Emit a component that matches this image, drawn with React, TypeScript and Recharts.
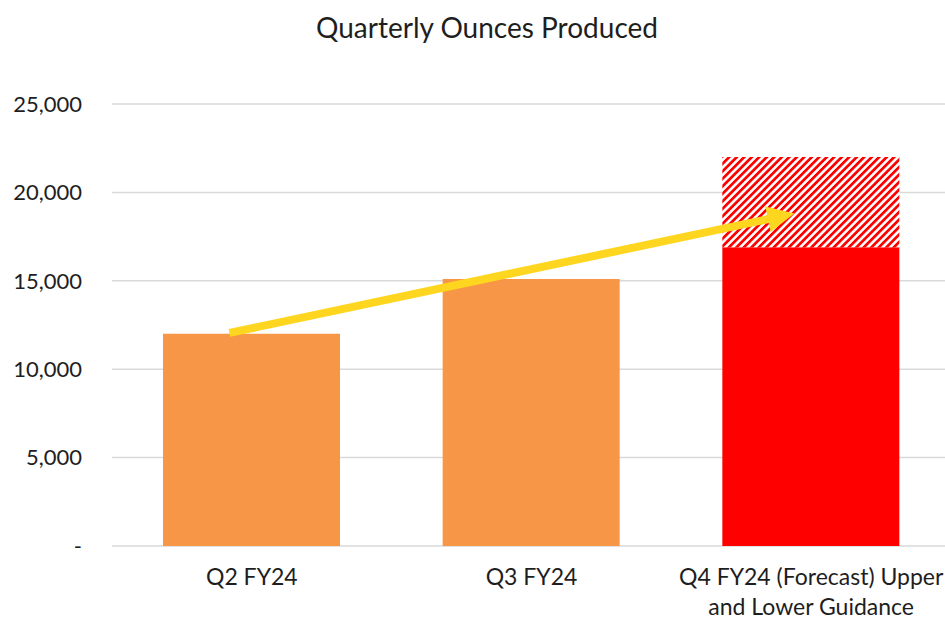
import React from 'react';
import { ComposedChart, Bar, XAxis, YAxis, CartesianGrid, ReferenceLine, Cell } from 'recharts';

const categories = ['Q2 FY24', 'Q3 FY24', 'Q4 FY24 (Forecast) Upper\nand Lower Guidance'];
const produced = [12000, 15100, 16900];
const guidanceRange = [0, 0, 5100];
const yTicks = [0, 5000, 10000, 15000, 20000, 25000];
// trend arrow, in (position along the category axis, ounces)
const arrowFrom = { x: 0.42, y: 12050 };
const arrowTo = { x: 2.44, y: 18800 };

const data = categories.map((name, i) => ({
  name,
  pos: i + 0.5,
  produced: produced[i],
  range: guidanceRange[i],
}));

const FONT = 'Lato, "Open Sans", sans-serif';

const CategoryTick = (props: any) => {
  const { x, y, payload } = props;
  const lines = String(payload.value).split('\n');
  return (
    <text x={x} y={y} textAnchor="middle" fontFamily={FONT} fontSize={23} fill="#1e1e1e">
      {lines.map((l, i) => (
        <tspan key={i} x={x} dy={i === 0 ? 31 : 30}>{l}</tspan>
      ))}
    </text>
  );
};

const Arrow = (p: any) => {
  const { x1, y1, x2, y2 } = p;
  const dx = x2 - x1, dy = y2 - y1;
  const len = Math.sqrt(dx * dx + dy * dy);
  const ux = dx / len, uy = dy / len;
  const head = 27, half = 13;
  const bx = x2 - ux * head, by = y2 - uy * head;
  return (
    <g>
      <line x1={x1} y1={y1} x2={bx + ux * 2} y2={by + uy * 2} stroke="#FFD61F" strokeWidth={8} />
      <polygon
        points={`${x2},${y2} ${bx - uy * half},${by + ux * half} ${bx + uy * half},${by - ux * half}`}
        fill="#FFD61F"
      />
    </g>
  );
};

export default function App() {
  return (
    <div style={{ position: 'absolute', left: 0, top: 0, width: 945, height: 619, overflow: 'hidden', background: '#fff' }}>
      <svg width={0} height={0} style={{ position: 'absolute' }}>
        <defs>
          <pattern id="hatch" width={5.3} height={5.3} patternUnits="userSpaceOnUse" patternTransform="rotate(45)">
            <rect width={5.3} height={5.3} fill="#fff" />
            <rect width={2.7} height={5.3} fill="#FF0000" />
          </pattern>
        </defs>
      </svg>
      <div style={{ position: 'absolute', top: 10, left: 0, width: 974, textAlign: 'center', fontFamily: FONT, fontSize: 28, color: '#1e1e1e' }}>
        Quarterly Ounces Produced
      </div>
      <ComposedChart width={951} height={619} data={data} margin={{ top: 104, right: 0, left: 0, bottom: 43 }}>
        <CartesianGrid vertical={false} stroke="#D9D9D9" strokeWidth={1.5} />
        <XAxis xAxisId="cat" dataKey="name" height={30} tickLine={false} axisLine={false} tick={<CategoryTick />} interval={0} />
        <XAxis xAxisId="pos" dataKey="pos" type="number" domain={[0, 3]} allowDataOverflow hide />
        <YAxis
          width={112}
          domain={[0, 25000]}
          ticks={yTicks}
          tickLine={false}
          axisLine={false}
          tickMargin={24}
          tick={{ fontFamily: FONT, fontSize: 22, fill: '#1e1e1e' }}
          tickFormatter={(v: number) => (v === 0 ? '-' : v.toLocaleString('en-US'))}
        />
        <Bar xAxisId="cat" dataKey="produced" stackId="a" barSize={177} isAnimationActive={false}>
          {data.map((d, i) => (
            <Cell key={i} fill={i === 2 ? '#FF0000' : '#F79646'} />
          ))}
        </Bar>
        <Bar xAxisId="cat" dataKey="range" stackId="a" barSize={177} fill="url(#hatch)" isAnimationActive={false} />
        <ReferenceLine xAxisId="pos" segment={[arrowFrom, arrowTo]} shape={<Arrow />} ifOverflow="visible" />
      </ComposedChart>
    </div>
  );
}
